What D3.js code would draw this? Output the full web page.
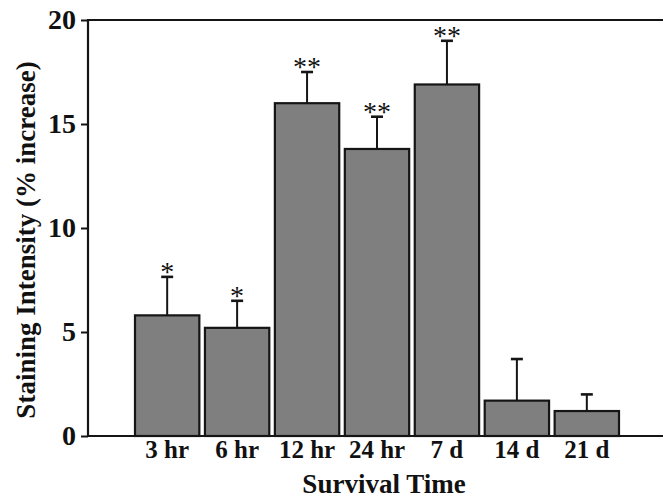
<!DOCTYPE html>
<html>
<head>
<meta charset="utf-8">
<script src="https://cdn.jsdelivr.net/npm/d3@7"></script>
<style>
  body { margin: 0; background: #fff; }
  text { font-family: "Liberation Serif", "Times New Roman", serif; fill: #111; }
</style>
</head>
<body>
<div id="graph_container"></div>
<script>
var width  = 663;
var height = 501;

// data
var categories = ["3 hr", "6 hr", "12 hr", "24 hr", "7 d", "14 d", "21 d"];
var means      = [5.8, 5.2, 16.0, 13.8, 16.9, 1.7, 1.2];
var errors     = [1.85, 1.3, 1.5, 1.55, 2.1, 2.0, 0.8];
var stars      = ["*", "*", "**", "**", "**", "", ""];
var yTicks     = [0, 5, 10, 15, 20];

var axis_x   = 88;
var top_y    = 20;
var bottom_y = 436;

var svg = d3.select("#graph_container").append("svg")
    .attr("width", width)
    .attr("height", height);

var y = d3.scaleLinear().domain([0, 20]).range([bottom_y, top_y]);
var x = d3.scaleBand().domain(categories).range([135, 619]).paddingInner(0.08).paddingOuter(0);

// bars
svg.selectAll("rect.bar").data(means).enter().append("rect")
    .attr("class", "bar")
    .attr("x", function(d, i) { return x(categories[i]); })
    .attr("y", function(d) { return y(d); })
    .attr("width", x.bandwidth())
    .attr("height", function(d) { return y(0) - y(d); })
    .attr("fill", "#7f7f7f")
    .attr("stroke", "#151515")
    .attr("stroke-width", 2.2);

// error bars (upper only)
var eb = svg.selectAll("g.err").data(means).enter().append("g").attr("class", "err");
eb.append("line")
    .attr("x1", function(d, i) { return x(categories[i]) + x.bandwidth() / 2; })
    .attr("x2", function(d, i) { return x(categories[i]) + x.bandwidth() / 2; })
    .attr("y1", function(d) { return y(d); })
    .attr("y2", function(d, i) { return y(d + errors[i]); })
    .attr("stroke", "#151515").attr("stroke-width", 2);
eb.append("line")
    .attr("x1", function(d, i) { return x(categories[i]) + x.bandwidth() / 2 - 6; })
    .attr("x2", function(d, i) { return x(categories[i]) + x.bandwidth() / 2 + 6; })
    .attr("y1", function(d, i) { return y(d + errors[i]); })
    .attr("y2", function(d, i) { return y(d + errors[i]); })
    .attr("stroke", "#151515").attr("stroke-width", 2.6);

// significance stars
svg.selectAll("text.star").data(means).enter().append("text")
    .attr("class", "star")
    .attr("x", function(d, i) { return x(categories[i]) + x.bandwidth() / 2; })
    .attr("y", function(d, i) { return y(d + errors[i]) + 4; })
    .attr("text-anchor", "middle")
    .style("font-size", "28px")
    .text(function(d, i) { return stars[i]; });

// y axis
var yAxis = d3.axisLeft(y).tickValues(yTicks).tickSize(7).tickPadding(5);
var gy = svg.append("g").attr("transform", "translate(" + axis_x + ",0)").call(yAxis);
gy.select(".domain").remove();
gy.selectAll(".tick line").attr("stroke", "#151515").attr("stroke-width", 2);
gy.selectAll(".tick text")
    .style("font-family", "'Liberation Serif', serif")
    .style("font-weight", "bold")
    .style("font-size", "28px")
    .attr("fill", "#111");

// frame lines: left, top, bottom (open on the right)
svg.append("line").attr("x1", axis_x).attr("x2", axis_x).attr("y1", top_y - 1).attr("y2", bottom_y + 1)
    .attr("stroke", "#151515").attr("stroke-width", 2.2);
svg.append("line").attr("x1", axis_x).attr("x2", width).attr("y1", top_y).attr("y2", top_y)
    .attr("stroke", "#151515").attr("stroke-width", 2.2);
svg.append("line").attr("x1", axis_x).attr("x2", width).attr("y1", bottom_y).attr("y2", bottom_y)
    .attr("stroke", "#151515").attr("stroke-width", 2.2);

// x axis labels
var xAxis = d3.axisBottom(x).tickSize(0).tickPadding(4);
var gx = svg.append("g").attr("transform", "translate(0," + bottom_y + ")").call(xAxis);
gx.select(".domain").remove();
gx.selectAll(".tick text")
    .style("font-family", "'Liberation Serif', serif")
    .style("font-weight", "bold")
    .style("font-size", "25px")
    .attr("fill", "#111");

// axis titles
svg.append("text")
    .attr("x", 384).attr("y", 493)
    .attr("text-anchor", "middle")
    .style("font-weight", "bold").style("font-size", "27px")
    .text("Survival Time");

svg.append("text")
    .attr("transform", "translate(35," + 240 + ") rotate(-90)")
    .attr("text-anchor", "middle")
    .style("font-weight", "bold").style("font-size", "27px")
    .text("Staining Intensity (% increase)");
</script>
</body>
</html>
